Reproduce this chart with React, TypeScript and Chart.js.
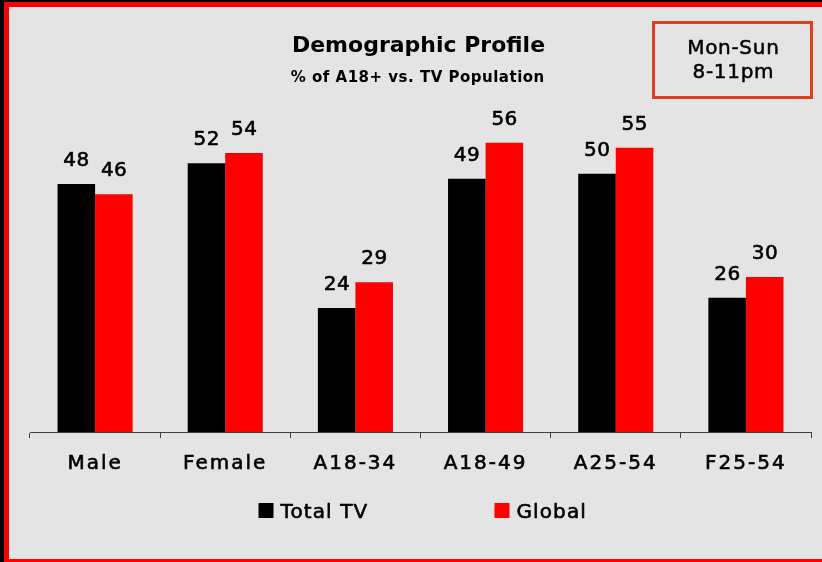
import React, { useEffect, useRef } from "react";
import { Chart, registerables } from "chart.js";

Chart.register(...registerables);

const categories = ["Male", "Female", "A18-34", "A18-49", "A25-54", "F25-54"];
const totalTV = [48, 52, 24, 49, 50, 26];
const globalVals = [46, 54, 29, 56, 55, 30];
const seriesNames = ["Total TV", "Global"];
const seriesColors = ["#000000", "#ff0000"];
const titleText = "Demographic Profile";
const subtitleText = "% of A18+ vs. TV Population";
const boxLines = ["Mon-Sun", "8-11pm"];
const yMax = 60;

const FONT = "'DejaVu Sans', sans-serif";

function drawText(ctx: any, text: string, x: number, y: number, spacing: number, stroke: number) {
  ctx.letterSpacing = `${spacing}px`;
  const sx = ctx.textAlign === "center" ? x + spacing / 2 : x;
  if (stroke > 0) {
    ctx.lineWidth = stroke;
    ctx.strokeStyle = ctx.fillStyle;
    ctx.lineJoin = "round";
    ctx.strokeText(text, sx, y);
  }
  ctx.fillText(text, sx, y);
}

const decorPlugin = {
  id: "decor",
  beforeDraw(chart: any) {
    const ctx = chart.ctx;
    const w = chart.width;
    const h = chart.height;
    ctx.save();
    ctx.fillStyle = "#e4e4e4";
    ctx.fillRect(0, 0, w, h);
    ctx.fillStyle = "#000000";
    ctx.fillRect(0, 0, 4, h);
    ctx.fillRect(0, 0, w, 2);
    ctx.fillStyle = "#ff0000";
    ctx.fillRect(4, 2, 5, h - 2);
    ctx.fillRect(4, 2, w - 4, 5);
    ctx.fillRect(4, h - 3, w - 4, 3);
    ctx.restore();
    // letter spacing for the axis labels drawn by Chart.js
    ctx.letterSpacing = "2px";
  },
  afterDraw(chart: any) {
    const ctx = chart.ctx;
    const area = chart.chartArea;
    const cx = (area.left + area.right) / 2;
    ctx.save();
    // Title & subtitle
    ctx.fillStyle = "#000";
    ctx.textAlign = "center";
    ctx.textBaseline = "alphabetic";
    ctx.font = `bold 22px ${FONT}`;
    drawText(ctx, titleText, cx - 2, 52, 0, 0);
    ctx.font = `bold 15px ${FONT}`;
    drawText(ctx, subtitleText, cx - 3, 82, 0.5, 0);

    // Mon-Sun box
    ctx.strokeStyle = "#e0401e";
    ctx.lineWidth = 3;
    ctx.strokeRect(653.5, 22.5, 158, 75);
    ctx.fillStyle = "#000";
    ctx.font = `20px ${FONT}`;
    drawText(ctx, boxLines[0], 733, 54, 0.7, 0.5);
    drawText(ctx, boxLines[1], 733, 78, 0.7, 0.5);

    // Data labels
    ctx.font = `20px ${FONT}`;
    chart.data.datasets.forEach((ds: any, i: number) => {
      const meta = chart.getDatasetMeta(i);
      meta.data.forEach((bar: any, j: number) => {
        ctx.fillStyle = "#000";
        drawText(ctx, String(ds.data[j]), bar.x, bar.y - 18, 0.5, 0.6);
      });
    });

    // Legend
    ctx.textAlign = "left";
    const legendStarts = [cx - 162, cx + 74];
    chart.data.datasets.forEach((ds: any, i: number) => {
      const x0 = legendStarts[i];
      ctx.fillStyle = ds.backgroundColor;
      ctx.fillRect(x0, 503, 15, 15);
      ctx.fillStyle = "#000";
      drawText(ctx, ds.label, x0 + 22, 518, 1.1, 0.6);
    });
    ctx.restore();
    ctx.letterSpacing = "0px";
  },
};

export default function App() {
  const ref = useRef<HTMLCanvasElement>(null);
  useEffect(() => {
    document.body.style.margin = "0";
    const chart = new Chart(ref.current as HTMLCanvasElement, {
      type: "bar",
      data: {
        labels: categories,
        datasets: [
          {
            label: seriesNames[0],
            data: totalTV,
            backgroundColor: seriesColors[0],
            barPercentage: 1,
            categoryPercentage: 0.577,
          },
          {
            label: seriesNames[1],
            data: globalVals,
            backgroundColor: seriesColors[1],
            barPercentage: 1,
            categoryPercentage: 0.577,
          },
        ],
      },
      options: {
        animation: false,
        responsive: false,
        devicePixelRatio: 1,
        layout: { padding: { left: 30, right: 11, top: 122, bottom: 72 } },
        plugins: {
          legend: { display: false },
          tooltip: { enabled: false },
          title: { display: false },
        },
        scales: {
          x: {
            grid: {
              display: true,
              drawOnChartArea: false,
              drawTicks: true,
              tickLength: 6,
              color: "#404040",
              offset: true,
            },
            border: { display: true, color: "#404040", width: 1 },
            ticks: {
              color: "#000",
              font: { family: FONT, size: 20 },
              padding: 14,
              maxRotation: 0,
              textStrokeColor: "#000",
              textStrokeWidth: 0.6,
            },
          },
          y: { display: false, min: 0, max: yMax },
        },
      },
      plugins: [decorPlugin],
    });
    return () => chart.destroy();
  }, []);
  return (
    <div style={{ width: 822, height: 562 }}>
      <canvas ref={ref} width={822} height={562} style={{ display: "block" }} />
    </div>
  );
}
